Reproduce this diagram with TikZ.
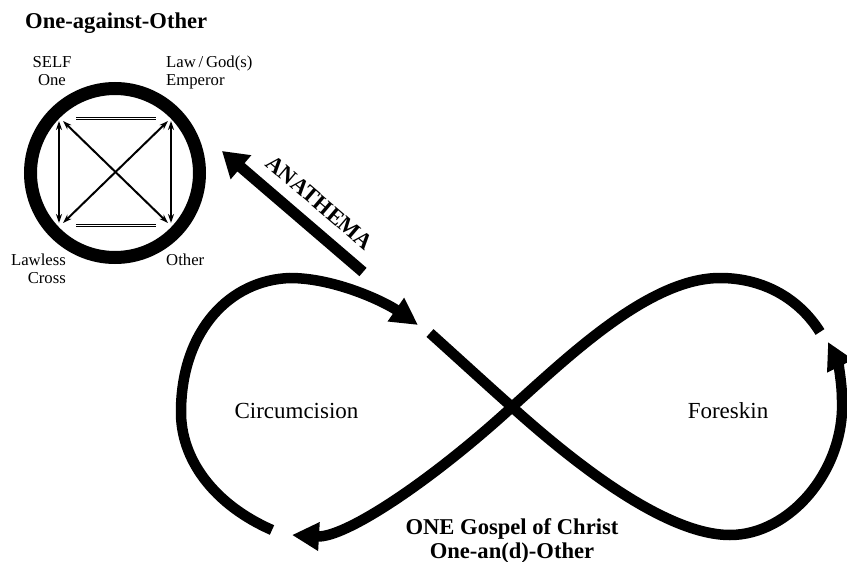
\documentclass[tikz,border=0pt]{standalone}
\usepackage{fontspec}
\setmainfont{Liberation Serif}
\usetikzlibrary{arrows.meta}

\begin{document}
\begin{tikzpicture}[
    x=1pt, y=-1pt,
    cornertext/.style={inner sep=0pt,font=\fontsize{16.7}{18}\selectfont},
    heading/.style={inner sep=0pt,font=\bfseries\fontsize{22.6}{24}\selectfont},
    fieldtext/.style={inner sep=0pt,font=\fontsize{23}{25}\selectfont},
    ring/.style={line width=13pt},
    squarelink/.style={line width=2pt,{Stealth[length=9pt,width=6pt]}-{Stealth[length=9pt,width=6pt]}},
    twinbar/.style={double,double distance=1.4pt,line width=0.8pt},
    eightline/.style={line width=10.5pt,-{Triangle[length=27pt,width=27pt]}},
    anathemaarrow/.style={line width=11pt,{Triangle[length=25pt,width=30pt]}-}
]

\useasboundingbox (0,0) rectangle (847,562);

\node[heading,anchor=base west] (title) at (25,28) {One-against-Other};

% Circle of opposites
\coordinate (hub) at (115,173);
\draw[ring] (hub) circle[radius=84.5];

\coordinate (self) at (59,121);
\coordinate (law) at (171,121);
\coordinate (lawless) at (59,223);
\coordinate (other) at (171,223);

\draw[squarelink] (self) -- (lawless);
\draw[squarelink] (law) -- (other);
\draw[squarelink] ([xshift=4pt]self) -- ([xshift=-3pt]other);
\draw[squarelink] ([xshift=-3pt]law) -- ([xshift=4pt]lawless);

\draw[twinbar] ([shift={(17,-2.5)}]self) -- ([shift={(-15,-2.5)}]law);
\draw[twinbar] ([shift={(17,2.5)}]lawless) -- ([shift={(-15,2.5)}]other);

\node[cornertext,align=center,anchor=north] (selftext) at (52,56)
    {SELF\\One};
\node[cornertext,align=left,anchor=north west] (lawtext) at (166,56)
    {Law\,/\,God(s)\\Emperor};
\node[cornertext,align=right,anchor=north east] (lawlesstext) at (66,254)
    {Lawless\\Cross};
\node[cornertext,anchor=base west] (othertext) at (166,265)
    {Other};

% Anathema
\coordinate (anatip) at (222,151);
\coordinate (anatail) at (363,272);

\draw[anathemaarrow] (anatip) -- node[heading,sloped,above=11.5pt,pos=0.58] (anathema)
    {ANATHEMA} (anatail);

% Figure eight
\coordinate (cross) at (512,407);

\draw[eightline] (272,530)
    .. controls (215,505) and (180,460) .. (181,410)
    .. controls (182,330) and (230,280) .. (290,278)
    .. controls (335,278) and (385,302) .. (418,325);

\draw[eightline] (430,333)
    .. controls (460,360) and (485,383) .. (cross)
    .. controls (560,450) and (660,535) .. (730,535)
    .. controls (790,535) and (845,470) .. (842,400)
    .. controls (842,380) and (837,360) .. (828,342);

\draw[eightline] (820,332)
    .. controls (800,300) and (765,278) .. (720,278)
    .. controls (650,278) and (570,355) .. (cross)
    .. controls (430,482) and (345,538) .. (292,535);

\node[fieldtext,anchor=base] (circumcision) at (296.5,418) {Circumcision};
\node[fieldtext,anchor=base] (foreskin) at (728,418) {Foreskin};

\node[heading,align=center,anchor=north] (gospel) at (512,518)
    {ONE Gospel of Christ\\One-an(d)-Other};

\end{tikzpicture}
\end{document}
